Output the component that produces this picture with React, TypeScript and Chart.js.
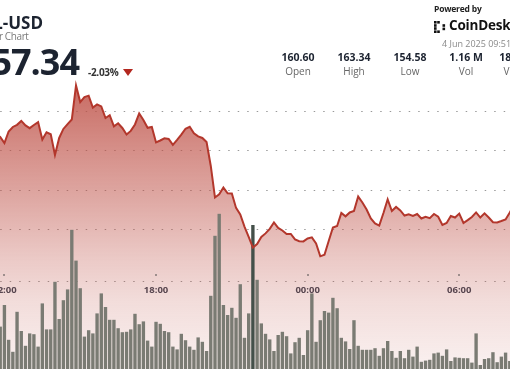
import React, { useEffect, useRef } from 'react';
import { Chart, registerables } from 'chart.js';

Chart.register(...registerables);

// 10-minute buckets, 3 Jun 11:40 -> 4 Jun 08:10 (UTC)
const TIME_LABELS: string[] = [
  '11:40', '11:50',
  '12:00', '12:10', '12:20', '12:30', '12:40', '12:50',
  '13:00', '13:10', '13:20', '13:30', '13:40', '13:50',
  '14:00', '14:10', '14:20', '14:30', '14:40', '14:50',
  '15:00', '15:10', '15:20', '15:30', '15:40', '15:50',
  '16:00', '16:10', '16:20', '16:30', '16:40', '16:50',
  '17:00', '17:10', '17:20', '17:30', '17:40', '17:50',
  '18:00', '18:10', '18:20', '18:30', '18:40', '18:50',
  '19:00', '19:10', '19:20', '19:30', '19:40', '19:50',
  '20:00', '20:10', '20:20', '20:30', '20:40', '20:50',
  '21:00', '21:10', '21:20', '21:30', '21:40', '21:50',
  '22:00', '22:10', '22:20', '22:30', '22:40', '22:50',
  '23:00', '23:10', '23:20', '23:30', '23:40', '23:50',
  '00:00', '00:10', '00:20', '00:30', '00:40', '00:50',
  '01:00', '01:10', '01:20', '01:30', '01:40', '01:50',
  '02:00', '02:10', '02:20', '02:30', '02:40', '02:50',
  '03:00', '03:10', '03:20', '03:30', '03:40', '03:50',
  '04:00', '04:10', '04:20', '04:30', '04:40', '04:50',
  '05:00', '05:10', '05:20', '05:30', '05:40', '05:50',
  '06:00', '06:10', '06:20', '06:30', '06:40', '06:50',
  '07:00', '07:10', '07:20', '07:30', '07:40', '07:50',
  '08:00', '08:10',
];

const AXIS_TICK_LABELS: string[] = ['12:00', '18:00', '00:00', '06:00'];

// SOL-USD close price (USD)
const PRICES: number[] = [
  160.86, 160.71, 160.40, 160.99, 161.22, 161.33, 161.53, 161.30, 161.16, 161.32,
  161.47, 160.58, 160.95, 160.85, 159.79, 160.66, 161.12, 161.37, 161.60, 163.34,
  162.49, 162.75, 162.82, 162.21, 162.37, 162.27, 161.68, 161.82, 161.25, 161.41,
  161.17, 160.84, 161.02, 161.35, 161.91, 161.58, 161.18, 161.22, 160.43, 160.53,
  160.64, 160.61, 160.31, 160.56, 160.83, 161.13, 161.23, 160.90, 160.74, 160.66,
  160.45, 159.23, 157.62, 157.78, 158.13, 157.84, 157.83, 157.09, 156.76, 156.14,
  155.61, 155.07, 155.25, 155.61, 155.79, 156.02, 156.35, 156.07, 155.94, 155.76,
  155.76, 155.48, 155.39, 155.38, 155.53, 155.59, 155.28, 154.62, 154.70, 155.40,
  156.09, 156.17, 156.83, 156.66, 156.86, 156.93, 157.67, 157.37, 157.01, 156.55,
  156.30, 156.19, 156.83, 157.53, 156.93, 157.14, 156.96, 156.70, 156.76, 156.68,
  156.78, 156.55, 156.64, 156.57, 156.78, 156.64, 156.22, 156.32, 156.68, 156.60,
  156.80, 156.32, 156.47, 156.63, 156.86, 156.60, 156.81, 156.60, 156.36, 156.35,
  156.42, 156.50, 156.86, 157.24,
];

// Volume per bucket (thousand SOL)
const VOLUMES: number[] = [
  9.8, 10.6, 16.0, 7.3, 4.3, 14.3, 9.5, 5.8, 8.9, 8.7,
  5.6, 16.4, 9.9, 9.9, 21.8, 12.5, 17.2, 19.9, 34.8, 27.1,
  20.2, 8.1, 9.7, 8.9, 13.9, 18.9, 15.5, 12.3, 12.3, 10.2,
  9.2, 9.3, 9.9, 13.8, 11.2, 11.9, 7.1, 5.6, 11.8, 11.3,
  9.5, 9.2, 5.6, 4.9, 8.8, 7.2, 5.6, 4.8, 7.9, 6.8,
  4.5, 18.3, 33.3, 38.8, 16.0, 13.5, 15.3, 12.8, 21.2, 7.8,
  13.9, 36.0, 22.3, 11.4, 8.8, 7.4, 4.5, 8.5, 9.3, 8.2,
  3.9, 6.7, 7.8, 3.5, 9.7, 18.9, 6.8, 12.2, 14.5, 14.1,
  17.8, 15.2, 7.8, 6.9, 5.0, 12.2, 5.8, 4.8, 4.8, 4.8,
  5.2, 3.3, 5.2, 7.0, 4.5, 2.8, 4.5, 2.7, 4.8, 3.1,
  5.6, 1.8, 2.1, 2.3, 3.9, 4.1, 3.3, 4.9, 2.0, 2.9,
  2.8, 2.7, 2.7, 1.6, 8.9, 1.0, 2.5, 2.7, 4.2, 1.7,
  3.1, 4.1, 2.0, 2.8,
];

const HIGHLIGHT_INDEX = 61;

const GRID_PRICES: number[] = [156, 158, 160, 162];
const PRICE_MIN = 148.87;
const PRICE_MAX = 167.7;
const AXIS_PRICE = 153.31;
const VOLUME_MAX = 92.25;

const STATS: { value: string; label: string }[] = [
  { value: '160.60', label: 'Open' },
  { value: '163.34', label: 'High' },
  { value: '154.58', label: 'Low' },
  { value: '1.16 M', label: 'Vol' },
  { value: '183.27 M', label: 'Vol USD' },
];

const GRID_DASH = [1.5, 8];

const tickDots = {
  id: 'tickDots',
  beforeDatasetsDraw(chart: any) {
    const xs = chart.scales.x;
    const ys = chart.scales.y;
    const axisY = ys.getPixelForValue(AXIS_PRICE);
    const c = chart.ctx;
    c.save();
    c.fillStyle = 'rgba(60,60,60,0.45)';
    xs.ticks.forEach((_t: any, k: number) => {
      const px = xs.getPixelForTick(k);
      c.fillRect(Math.round(px) - 1, Math.round(axisY) - 8, 2, 2);
    });
    c.restore();
  },
};

export default function App() {
  const ref = useRef<HTMLCanvasElement>(null);

  useEffect(() => {
    const canvas = ref.current;
    if (!canvas) return;
    const chart = new Chart(canvas, {
      type: 'line',
      data: {
        labels: TIME_LABELS,
        datasets: [
          {
            type: 'line',
            label: 'Price',
            data: PRICES,
            yAxisID: 'y',
            order: 0,
            borderColor: '#b3372c',
            borderWidth: 2,
            pointRadius: 0,
            tension: 0,
            fill: 'start',
            backgroundColor: (ctx: any) => {
              const { chart: ch } = ctx;
              const area = ch.chartArea;
              if (!area) return 'rgba(190,80,70,0.4)';
              const g = ch.ctx.createLinearGradient(0, area.top, 0, area.bottom);
              g.addColorStop(0, 'rgba(190,80,70,0.9)');
              g.addColorStop(0.217, 'rgba(190,80,70,0.86)');
              g.addColorStop(0.379, 'rgba(190,80,70,0.67)');
              g.addColorStop(0.542, 'rgba(190,80,70,0.49)');
              g.addColorStop(0.705, 'rgba(190,80,70,0.30)');
              g.addColorStop(0.813, 'rgba(190,80,70,0.20)');
              g.addColorStop(1, 'rgba(190,80,70,0.08)');
              return g;
            },
          },
          {
            type: 'bar',
            label: 'Volume',
            data: VOLUMES,
            yAxisID: 'yv',
            order: 1,
            barPercentage: 0.8,
            categoryPercentage: 1,
            backgroundColor: (ctx: any) =>
              ctx.dataIndex === HIGHLIGHT_INDEX ? '#44504a' : '#7a7b73',
          },
        ],
      },
      options: {
        responsive: false,
        animation: false,
        events: [],
        layout: { padding: 0 },
        plugins: {
          legend: { display: false },
          tooltip: { enabled: false },
          filler: { drawTime: 'beforeDatasetsDraw' },
        },
        scales: {
          x: {
            type: 'category',
            offset: false,
            position: { y: AXIS_PRICE },
            grid: { display: false, drawTicks: false, offset: false },
            border: { display: false },
            afterBuildTicks: (scale: any) => {
              scale.ticks = scale.ticks.filter((t: any) =>
                AXIS_TICK_LABELS.includes(TIME_LABELS[t.value])
              );
            },
            afterFit: (scale: any) => {
              scale.paddingLeft = 0;
              scale.paddingRight = 0;
            },
            ticks: {
              autoSkip: false,
              maxRotation: 0,
              padding: 3,
              color: '#3a4352',
              font: { family: '"Open Sans", Arial, sans-serif', size: 9.5, weight: 'bold' },
            },
          },
          y: {
            type: 'linear',
            position: 'left',
            min: PRICE_MIN,
            max: PRICE_MAX,
            afterBuildTicks: (scale: any) => {
              scale.ticks = [AXIS_PRICE, ...GRID_PRICES].map((v) => ({ value: v }));
            },
            afterFit: (scale: any) => {
              scale.width = 0;
              scale.paddingTop = 0;
              scale.paddingBottom = 0;
            },
            ticks: { display: false },
            border: { display: false, dash: GRID_DASH, dashOffset: 5.3 },
            grid: {
              drawTicks: false,
              color: 'rgba(0,0,0,0.4)',
              lineWidth: 1,
              borderDash: GRID_DASH,
              borderDashOffset: 5.3,
            },
          },
          yv: {
            type: 'linear',
            display: false,
            min: 0,
            max: VOLUME_MAX,
          },
        },
      } as any,
      plugins: [tickDots],
    });
    return () => chart.destroy();
  }, []);

  const font = '"Open Sans", Arial, sans-serif';

  return (
    <div
      style={{
        position: 'fixed',
        left: 0,
        top: 0,
        width: 510,
        height: 369,
        overflow: 'hidden',
        background: '#ffffff',
        fontFamily: font,
      }}
    >
      <canvas
        ref={ref}
        width={518}
        height={369}
        style={{ position: 'absolute', left: -4, top: 0, width: 518, height: 369 }}
      />
      <div style={{ position: 'absolute', right: 467, top: 14, fontSize: 17, fontWeight: 700, lineHeight: 1, color: '#1c2330', whiteSpace: 'nowrap' }}>
        SOL-USD
      </div>
      <div style={{ position: 'absolute', right: 481.5, top: 31, fontSize: 10, lineHeight: 1, color: '#7a7a7a', whiteSpace: 'nowrap', letterSpacing: -0.4 }}>
        24 Hour Chart
      </div>
      <div style={{ position: 'absolute', right: 431, top: 43.7, fontSize: 36, fontWeight: 700, lineHeight: 1, letterSpacing: -1, color: '#1c2330', whiteSpace: 'nowrap' }}>
        157.34
      </div>
      <div style={{ position: 'absolute', left: 88, top: 67.3, fontSize: 10, fontWeight: 700, lineHeight: 1, color: '#333', whiteSpace: 'nowrap', letterSpacing: -0.3 }}>
        -2.03%
      </div>
      <div style={{ position: 'absolute', left: 123, top: 69, width: 0, height: 0, borderLeft: '5px solid transparent', borderRight: '5px solid transparent', borderTop: '7px solid #b3271f' }} />

      <div style={{ position: 'absolute', left: 434, top: 4.5, fontSize: 8.5, fontWeight: 700, lineHeight: 1, color: '#222', whiteSpace: 'nowrap', letterSpacing: -0.2 }}>
        Powered by
      </div>
      <svg style={{ position: 'absolute', left: 434, top: 21 }} width={13} height={12} viewBox="0 0 13 12">
        <rect x={0} y={0} width={2.6} height={2.6} fill="#111" />
        <rect x={3.2} y={0} width={2.6} height={2.6} fill="#111" />
        <rect x={0} y={3.2} width={2.6} height={2.6} fill="#111" />
        <rect x={0} y={6.2} width={2.6} height={2.6} fill="#111" />
        <rect x={0} y={9.4} width={2.6} height={2.6} fill="#111" />
        <rect x={3.2} y={9.4} width={2.6} height={2.6} fill="#111" />
        <rect x={8.5} y={3.2} width={2.6} height={2.6} fill="#111" />
        <rect x={8.5} y={6.6} width={2.6} height={2.6} fill="#111" />
      </svg>
      <div style={{ position: 'absolute', left: 449, top: 19.2, fontSize: 13.5, fontWeight: 700, lineHeight: 1, color: '#111', whiteSpace: 'nowrap', letterSpacing: -0.2 }}>
        CoinDesk
      </div>
      <div style={{ position: 'absolute', left: 442, top: 39.4, fontSize: 9, lineHeight: 1, color: '#8a8a8a', whiteSpace: 'nowrap' }}>
        4 Jun 2025 09:51 UTC
      </div>
      {STATS.map((s, k) => (
        <React.Fragment key={s.label}>
          <div style={{ position: 'absolute', left: 268 + k * 56, width: 60, textAlign: 'center', top: 52.2, fontSize: 10.5, fontWeight: 700, lineHeight: 1, color: '#1c2330', whiteSpace: 'nowrap' }}>
            {s.value}
          </div>
          <div style={{ position: 'absolute', left: 268 + k * 56, width: 60, textAlign: 'center', top: 66.3, fontSize: 10, lineHeight: 1, color: '#666', whiteSpace: 'nowrap' }}>
            {s.label}
          </div>
        </React.Fragment>
      ))}
    </div>
  );
}
